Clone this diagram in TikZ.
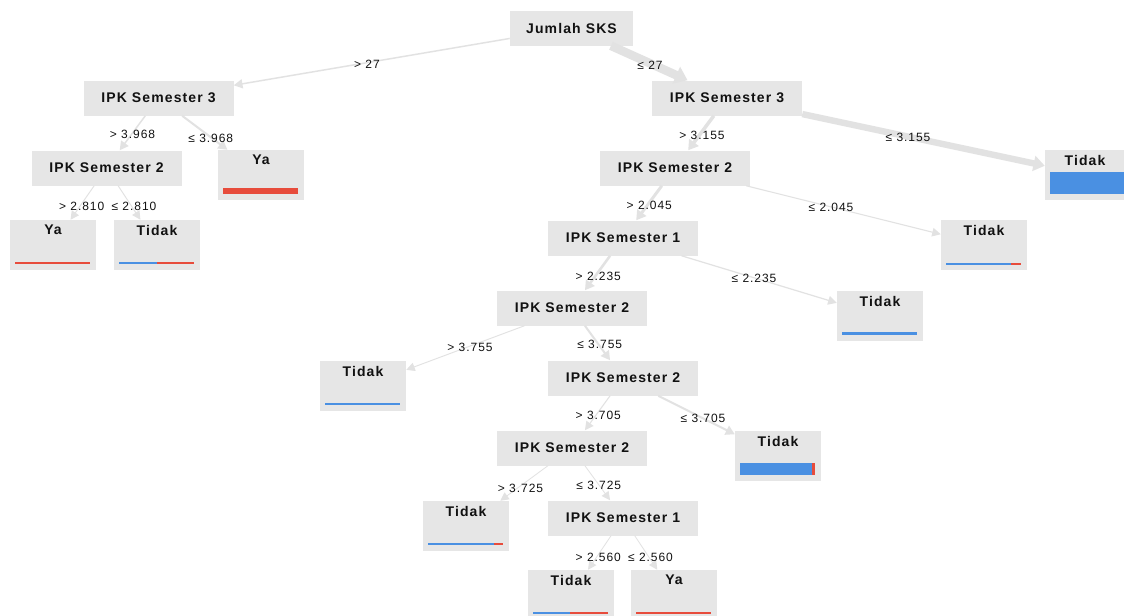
\documentclass[tikz,border=0pt]{standalone}
\usepackage{fontspec}
\setmainfont{Liberation Sans}
\newfontfamily\dtfont[LetterSpace=8]{Liberation Sans}
\usetikzlibrary{arrows.meta,calc}
\definecolor{nodegray}{HTML}{E6E6E6}
\definecolor{edgegray}{HTML}{E2E2E2}
\definecolor{cblue}{HTML}{4A90E2}
\definecolor{cred}{HTML}{E74C3C}
\definecolor{txt}{HTML}{111111}
\begin{document}
\begin{tikzpicture}[x=0.75pt,y=-0.75pt,
  inner/.style={fill=nodegray, minimum width=112.5pt, minimum height=26.25pt, inner sep=0pt,
    font=\dtfont\bfseries\fontsize{10.5}{12}\selectfont, text=txt},
  leaf/.style={fill=nodegray, minimum width=64.5pt, minimum height=37.5pt, inner sep=0pt},
  ltext/.style={font=\dtfont\bfseries\fontsize{10.5}{12}\selectfont, text=txt, inner sep=0pt},
  elabel/.style={font=\dtfont\fontsize{9}{10}\selectfont, text=txt, inner sep=0pt},
  edge/.style={draw=edgegray, line width=#1, -{Triangle[length=6pt 0.5, width=5.5pt 1.2]}},
  edge/.default=0.8pt]
\useasboundingbox (0,0) rectangle (1124,615);
\clip (0,0) rectangle (1124,615);
\fill[white] (0,0) rectangle (1124,615);

% internal nodes
\node[inner, minimum width=92.25pt] (root) at (571.5,28) {Jumlah SKS};
\node[inner] (L3) at (158.5,98) {IPK Semester 3};
\node[inner] (R3) at (727,98) {IPK Semester 3};
\node[inner] (L2) at (106.5,168) {IPK Semester 2};
\node[inner] (R2) at (675,168) {IPK Semester 2};
\node[inner] (I1) at (623,238) {IPK Semester 1};
\node[inner] (I2a) at (572,308) {IPK Semester 2};
\node[inner] (I2b) at (623,378) {IPK Semester 2};
\node[inner] (I2c) at (572,448) {IPK Semester 2};
\node[inner] (I1b) at (623,518) {IPK Semester 1};

% leaves
\node[leaf] (lya) at (261,175) {};
\node[leaf] (llya) at (53,245) {};
\node[leaf] (llt) at (157,245) {};
\node[leaf] (tbig) at (1088,175) {};
\node[leaf] (t2045) at (984,245) {};
\node[leaf] (t2235) at (880,316) {};
\node[leaf] (t3755) at (363,386) {};
\node[leaf] (t3705) at (778,456) {};
\node[leaf] (t3725) at (466,526) {};
\node[leaf] (tb) at (571,595) {};
\node[leaf] (yb) at (674,595) {};

% leaf texts
\node[ltext] (lyaT) at ($(lya.north)+(0,10.5)$) {Ya};
\node[ltext] (llyaT) at ($(llya.north)+(0,10.5)$) {Ya};
\node[ltext] (lltT) at ($(llt.north)+(0,10.5)$) {Tidak};
\node[ltext] (tbigT) at ($(tbig.north)+(-3,10.5)$) {Tidak};
\node[ltext] (t2045T) at ($(t2045.north)+(0,10.5)$) {Tidak};
\node[ltext] (t2235T) at ($(t2235.north)+(0,10.5)$) {Tidak};
\node[ltext] (t3755T) at ($(t3755.north)+(0,10.5)$) {Tidak};
\node[ltext] (t3705T) at ($(t3705.north)+(0,10.5)$) {Tidak};
\node[ltext] (t3725T) at ($(t3725.north)+(0,10.5)$) {Tidak};
\node[ltext] (tbT) at ($(tb.north)+(0,10.5)$) {Tidak};
\node[ltext] (ybT) at ($(yb.north)+(0,10.5)$) {Ya};

% bars
\fill[cred] ($(lya.south west)+(5,-6)$) rectangle ($(lya.south west)+(80,-12.5)$);
\fill[cred] ($(llya.south west)+(5,-6)$) rectangle ($(llya.south west)+(80,-8)$);
\fill[cblue] ($(llt.south west)+(5,-6)$) rectangle ($(llt.south west)+(43,-8)$);
\fill[cred] ($(llt.south west)+(43,-6)$) rectangle ($(llt.south west)+(80,-8)$);
\fill[cblue] ($(tbig.south west)+(5,-6)$) rectangle ($(tbig.south west)+(80,-28)$);
\fill[cblue] ($(t2045.south west)+(5,-5.5)$) rectangle ($(t2045.south west)+(70,-7.7)$);
\fill[cred] ($(t2045.south west)+(70,-5.5)$) rectangle ($(t2045.south west)+(80,-7.7)$);
\fill[cblue] ($(t2235.south west)+(5,-6)$) rectangle ($(t2235.south west)+(80,-9.4)$);
\fill[cblue] ($(t3755.south west)+(5,-6.3)$) rectangle ($(t3755.south west)+(80,-8.7)$);
\fill[cblue] ($(t3705.south west)+(5,-6)$) rectangle ($(t3705.south west)+(77.5,-18.3)$);
\fill[cred] ($(t3705.south west)+(77.5,-6)$) rectangle ($(t3705.south west)+(80,-18.3)$);
\fill[cblue] ($(t3725.south west)+(5,-5.8)$) rectangle ($(t3725.south west)+(71,-7.9)$);
\fill[cred] ($(t3725.south west)+(71,-5.8)$) rectangle ($(t3725.south west)+(80,-7.9)$);
\fill[cblue] ($(tb.south west)+(5,-5.8)$) rectangle ($(tb.south west)+(42,-7.9)$);
\fill[cred] ($(tb.south west)+(42,-5.8)$) rectangle ($(tb.south west)+(80,-7.9)$);
\fill[cred] ($(yb.south west)+(5,-5.8)$) rectangle ($(yb.south west)+(80,-7.9)$);

% edges
\draw[edge=1.1pt] (root) -- (L3);
\draw[edge=6.5pt] (root) -- (R3);
\draw[edge=1.1pt] (L3) -- (L2);
\draw[edge=1.5pt] (L3) -- (lya);
\draw[edge=0.7pt] (L2) -- (llya);
\draw[edge=0.7pt] (L2) -- (llt);
\draw[edge=2.6pt] (R3) -- (R2);
\draw[edge=4.8pt] (R3) -- (tbig);
\draw[edge=2.2pt] (R2) -- (I1);
\draw[edge=0.8pt] (R2) -- (t2045);
\draw[edge=1.9pt] (I1) -- (I2a);
\draw[edge=0.9pt] (I1) -- (t2235);
\draw[edge=0.7pt] (I2a) -- (t3755);
\draw[edge=1.5pt] (I2a) -- (I2b);
\draw[edge=0.8pt] (I2b) -- (I2c);
\draw[edge=1.5pt] (I2b) -- (t3705);
\draw[edge=0.6pt] (I2c) -- (t3725);
\draw[edge=0.6pt] (I2c) -- (I1b);
\draw[edge=0.6pt] (I1b) -- (tb);
\draw[edge=0.6pt] (I1b) -- (yb);

% edge labels
\node[elabel] (e1) at (367,64) {> 27};
\node[elabel] (e2) at (650,65) {≤ 27};
\node[elabel] (e3) at (132.5,134.3) {> 3.968};
\node[elabel] (e4) at (210.8,138.3) {≤ 3.968};
\node[elabel] (e5) at (81.7,206.7) {> 2.810};
\node[elabel] (e6) at (134,206.7) {≤ 2.810};
\node[elabel] (e7) at (702,135) {> 3.155};
\node[elabel] (e8) at (908,137.5) {≤ 3.155};
\node[elabel] (e9) at (649.3,205) {> 2.045};
\node[elabel] (e10) at (831,207.3) {≤ 2.045};
\node[elabel] (e11) at (598.3,276) {> 2.235};
\node[elabel] (e12) at (754,278.3) {≤ 2.235};
\node[elabel] (e13) at (470,347.7) {> 3.755};
\node[elabel] (e14) at (599.7,344.3) {≤ 3.755};
\node[elabel] (e15) at (598.3,415) {> 3.705};
\node[elabel] (e16) at (703,418.3) {≤ 3.705};
\node[elabel] (e17) at (520.5,488.3) {> 3.725};
\node[elabel] (e18) at (598.8,485) {≤ 3.725};
\node[elabel] (e19) at (598.3,557.7) {> 2.560};
\node[elabel] (e20) at (650.5,557.7) {≤ 2.560};
\end{tikzpicture}
\end{document}
